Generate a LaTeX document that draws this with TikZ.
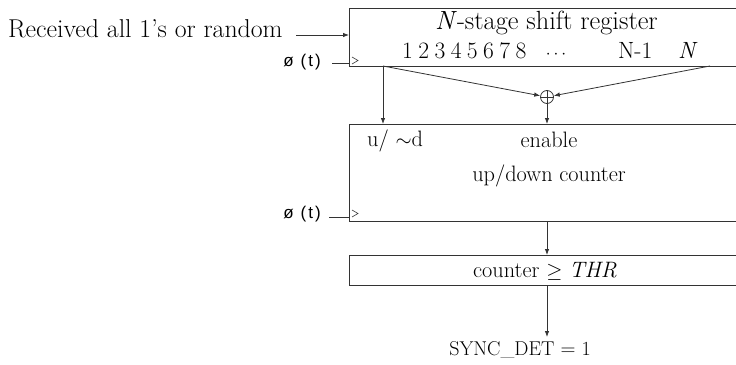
\documentclass[tikz,border=0pt]{standalone}
\usepackage{fontspec}
\newfontfamily\phifont{Liberation Sans}
\usetikzlibrary{arrows.meta}
\begin{document}
\begin{tikzpicture}[x=1pt,y=-1pt,
  wire/.style={draw=black!80, line width=0.8pt},
  arr/.style={wire,-{Latex[length=6pt,width=4.5pt]}},
  bigtxt/.style={font=\fontsize{26.3}{31}\selectfont, inner sep=0pt},
  digtxt/.style={font=\fontsize{23.5}{28}\selectfont, inner sep=0pt},
  midtxt/.style={font=\fontsize{22.3}{26}\selectfont, inner sep=0pt},
  phitxt/.style={font=\phifont\fontsize{17}{20}\selectfont, inner sep=0pt},
  blk/.style={inner sep=0pt, outer sep=0pt, anchor=north west, minimum width=387pt},
]
\useasboundingbox (0,0) rectangle (736,364);

% blocks (right side runs off the picture)
\node[blk, minimum height=58pt] (sr) at (349,8) {};
\node[blk, minimum height=97pt] (cnt) at (349,124) {};
\node[blk, minimum height=30pt] (thr) at (349,255) {};
\foreach \b in {sr,cnt,thr}
  \draw[wire] (\b.north east) -- (\b.north west) -- (\b.south west) -- (\b.south east);

% clock marks
\draw[wire, line width=0.6pt] ([xshift=3pt,yshift=9pt]sr.south west) -- ++(6,3.5) -- ++(-6,3.5);
\draw[wire, line width=0.6pt] ([xshift=3pt,yshift=11pt]cnt.south west) -- ++(6,3.5) -- ++(-6,3.5);

% texts in the shift register
\node[bigtxt, anchor=base] (title) at (546.5,29) {\textit{N}-stage shift register};
\node[digtxt, anchor=base west] (digs) at (402,58) {1\hspace{0.23em}2\hspace{0.23em}3\hspace{0.23em}4\hspace{0.23em}5\hspace{0.23em}6\hspace{0.23em}7\hspace{0.23em}8};
\node[inner sep=0pt, font=\fontsize{17}{20}\selectfont, anchor=base] (dots) at (556,58) {$\cdots$};
\node[digtxt, anchor=base west] (nm1) at (618,58) {N-1};
\node[digtxt, anchor=base west] (nn) at (678,58) {\textit{N}};

% input
\node[font=\fontsize{25.8}{30}\selectfont, inner sep=0pt, anchor=base west] (rcv) at (8,37) {Received all 1's or random};
\coordinate (rin) at (296,35);
\draw[arr] (rin) -- (rin -| sr.west);

% clocks
\node[phitxt, anchor=east] (phi1) at (321,62) {ø\hspace{0.4em}(\hspace{0.12em}t\hspace{0.12em})};
\coordinate (c1) at (332,63);
\draw[wire] (c1) -- (c1 -| sr.west);
\node[phitxt, anchor=east] (phi2) at (321,214) {ø\hspace{0.4em}(\hspace{0.12em}t\hspace{0.12em})};
\coordinate (c2) at (329,217);
\draw[wire] (c2) -- (c2 -| cnt.west);

% xor
\node[circle, draw=black!80, line width=0.8pt, minimum size=13pt, inner sep=0pt] (xor) at (547,97) {};
\draw[wire] (xor.north) -- (xor.south) (xor.west) -- (xor.east);

% taps
\coordinate (tapL) at ([xshift=34pt]sr.south west);
\coordinate (tapR) at ([xshift=361pt]sr.south west);
\draw[arr] (tapL) -- (tapL |- cnt.north);
\draw[arr] (tapL) -- (xor);
\draw[arr] (tapR) -- (xor);
\draw[arr] (xor) -- (xor |- cnt.north);

% counter texts
\node[midtxt, anchor=base west] (ud) at (367,146) {u/ $\sim$d};
\node[midtxt, anchor=base] (en) at (549,147) {enable};
\node[midtxt, anchor=base] (udc) at (549,181) {up/down counter};

% threshold
\node[midtxt, anchor=base] (thrt) at (545,277) {counter $\geq$ \textit{THR}};
\draw[arr] (cnt.south -| xor) -- (thr.north -| xor);

% output
\node[inner sep=0pt, font=\fontsize{20}{24}\selectfont, anchor=base] (sync) at (520,355) {SYNC\_DET $=$ 1};
\coordinate (oend) at (547,337);
\draw[arr] (thr.south -| xor) -- (oend);
\end{tikzpicture}
\end{document}
